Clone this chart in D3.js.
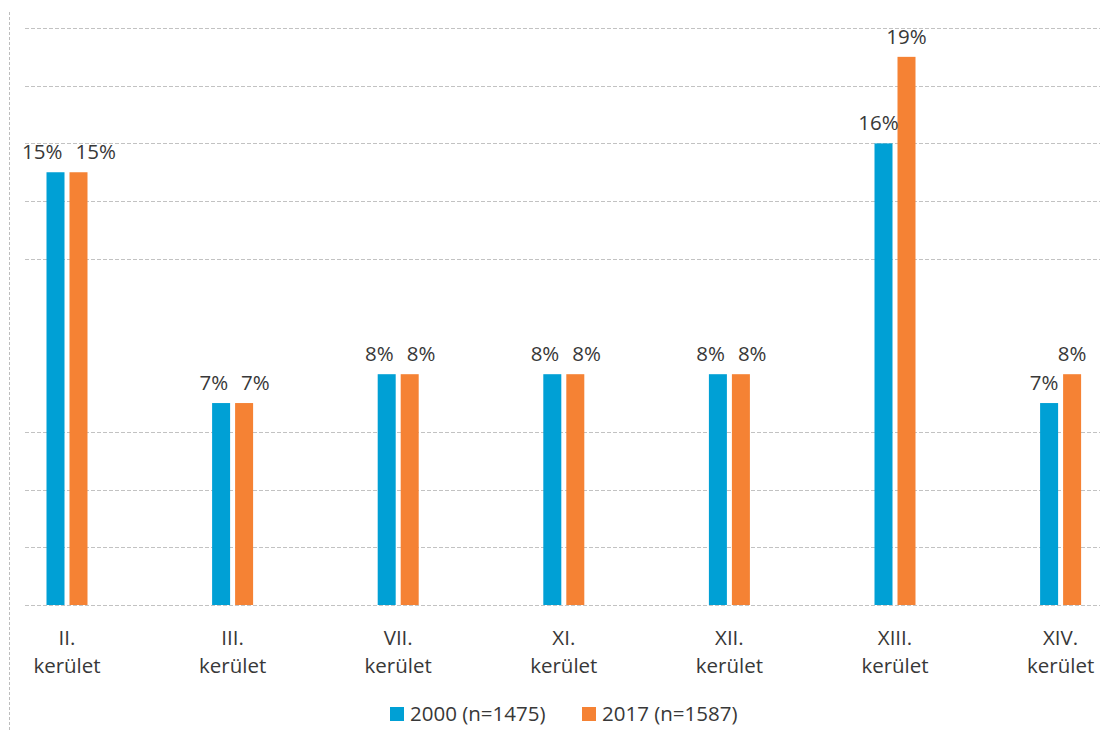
<!DOCTYPE html>
<html>
<head>
<meta charset="utf-8">
<script src="https://cdn.jsdelivr.net/npm/d3@7"></script>
<style>
  html, body { margin: 0; padding: 0; background: #fff; }
  svg { display: block; }
  text { font-family: "Open Sans", sans-serif; fill: #383838; }
</style>
</head>
<body>
<svg id="chart" width="1108" height="732"></svg>
<script>
// ---- data ----
const categoriesLine1 = ["II.", "III.", "VII.", "XI.", "XII.", "XIII.", "XIV."];
const categoriesLine2 = "kerület";
const seriesNames = ["2000 (n=1475)", "2017 (n=1587)"];
const values2000 = [15, 7, 8, 8, 8, 16, 7];
const values2017 = [15, 7, 8, 8, 8, 19, 8];
const gridTicks = [0, 2, 4, 6, 12, 14, 16, 18, 20];
const colors = ["#00a0d5", "#f58234"];

const svg = d3.select("#chart");
const W = 1108, H = 732;
const FS = 20.5;

const y = d3.scaleLinear().domain([0, 20]).range([605, 28]);
const x0 = d3.scaleBand().domain(categoriesLine1).range([-15.8, 1143.4]).padding(0);
const x1 = d3.scaleBand().domain([0, 1]).range([-20.5, 20.5]).paddingInner(5 / 23).paddingOuter(0);

// left vertical dashed line
svg.append("line")
  .attr("x1", 9.5).attr("x2", 9.5).attr("y1", 12).attr("y2", H)
  .attr("stroke", "#bdbdbd").attr("stroke-width", 1).attr("stroke-dasharray", "3,2");

// gridlines
svg.append("g").selectAll("line").data(gridTicks).join("line")
  .attr("x1", 25).attr("x2", 1100)
  .attr("y1", d => Math.round(y(d)) + 0.5).attr("y2", d => Math.round(y(d)) + 0.5)
  .attr("stroke", "#c2c2c2").attr("stroke-width", 1.2).attr("stroke-dasharray", "4,2");

const data = categoriesLine1.map((c, i) => ({ cat: c, vals: [values2000[i], values2017[i]] }));

const groups = svg.append("g").selectAll("g").data(data).join("g")
  .attr("transform", d => `translate(${x0(d.cat) + x0.bandwidth() / 2},0)`);

groups.selectAll("rect").data(d => d.vals.map((v, s) => ({ v, s }))).join("rect")
  .attr("x", d => x1(d.s))
  .attr("width", x1.bandwidth())
  .attr("y", d => y(d.v))
  .attr("height", d => y(0) - y(d.v))
  .attr("fill", d => colors[d.s]);

// value labels
groups.each(function(d) {
  const g = d3.select(this);
  const same = d.vals[0] === d.vals[1];
  d.vals.forEach((v, s) => {
    let xPos, anchor;
    if (same) {
      if (s === 0) { xPos = x1(0) + x1.bandwidth() - 2; anchor = "end"; }
      else { xPos = x1(1) + 6; anchor = "start"; }
    } else {
      xPos = x1(s) + x1.bandwidth() / 2 - (s === 0 ? 5 : 0);
      anchor = "middle";
    }
    g.append("text")
      .attr("x", xPos)
      .attr("y", y(v) - 13)
      .attr("text-anchor", anchor)
      .attr("font-size", FS)
      .text(v + "%");
  });
});

// category labels
const catG = svg.append("g").selectAll("text").data(categoriesLine1).join("text")
  .attr("text-anchor", "middle")
  .attr("font-size", FS)
  .attr("transform", d => `translate(${x0(d) + x0.bandwidth() / 2},0)`);
catG.append("tspan").attr("x", 0).attr("y", 645).text(d => d);
catG.append("tspan").attr("x", 0).attr("y", 673).text(categoriesLine2);

// legend
const legendX = [390, 582];
const leg = svg.append("g").selectAll("g").data(seriesNames).join("g")
  .attr("transform", (d, i) => `translate(${legendX[i]},707)`);
leg.append("rect").attr("width", 14).attr("height", 14).attr("fill", (d, i) => colors[i]);
leg.append("text").attr("x", 20).attr("y", 14).attr("font-size", FS).text(d => d);
</script>
</body>
</html>
